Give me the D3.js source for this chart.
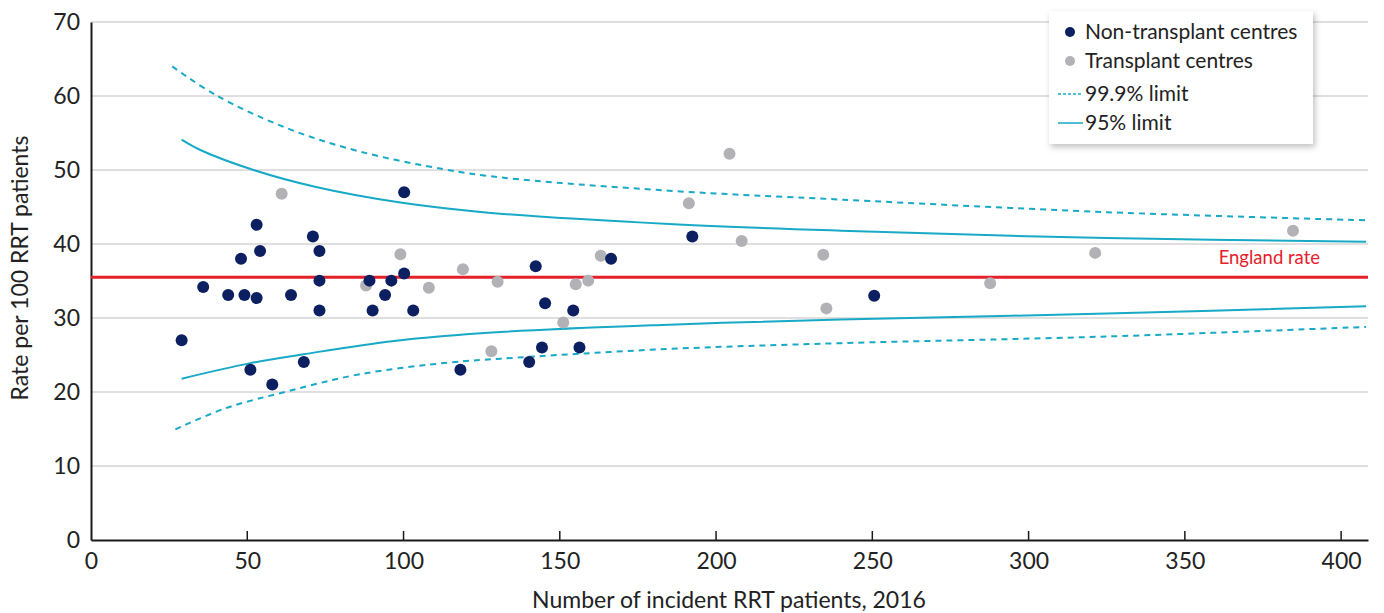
<!DOCTYPE html>
<html>
<head>
<meta charset="utf-8">
<script src="https://cdn.jsdelivr.net/npm/d3@7"></script>
<style>
  html, body { margin: 0; padding: 0; background: #fff; }
  svg { display: block; font-family: Lato, "Open Sans", sans-serif; }
</style>
</head>
<body>
<svg id="chart" width="1384" height="613"></svg>
<script>
// ---- data ----
const nonTxSize = [29.0, 35.9, 43.9, 49.1, 53.0, 48.0, 53.0, 54.1, 64.0, 51.0, 58.0, 68.1, 71.0, 73.1, 73.1, 73.1, 89.1, 90.1, 94.1, 96.1, 100.2, 100.2, 103.1, 118.2, 142.3, 145.3, 140.2, 144.3, 154.3, 156.3, 166.4, 192.4, 250.6];
const nonTxRate = [27.0, 34.2, 33.1, 33.1, 32.7, 38.0, 42.6, 39.05, 33.1, 23.0, 21.0, 24.05, 41.0, 39.05, 35.05, 31.0, 35.05, 31.0, 33.1, 35.05, 47.0, 36.0, 31.0, 23.0, 37.0, 32.0, 24.05, 26.0, 31.0, 26.0, 38.0, 41.0, 33.0];
const txSize = [61.0, 88.0, 99.0, 108.1, 119.0, 130.1, 128.1, 151.1, 155.1, 159.1, 163.1, 204.3, 191.3, 208.2, 234.3, 235.3, 287.7, 321.3, 384.6];
const txRate = [46.8, 34.4, 38.6, 34.1, 36.6, 34.9, 25.5, 29.4, 34.55, 35.05, 38.4, 52.2, 45.5, 40.4, 38.55, 31.3, 34.7, 38.8, 41.8];

const upper999X = [26, 40, 63, 86, 113, 131, 185, 240, 325, 408];
const upper999Y = [64.0, 60.1, 55.6, 52.5, 50.1, 49.0, 47.2, 46.0, 44.3, 43.2];
const upper95X = [29, 35, 52, 72, 99, 128, 185, 240, 325, 408];
const upper95Y = [54.1, 52.7, 50.0, 47.7, 45.6, 44.2, 42.7, 41.8, 40.8, 40.3];
const lower95X = [29, 51, 68, 97, 131, 185, 240, 325, 408];
const lower95Y = [21.8, 23.9, 25.1, 26.9, 28.1, 29.1, 29.8, 30.6, 31.6];
const lower999X = [27, 43, 63, 86, 115, 131, 184, 240, 325, 408];
const lower999Y = [14.95, 17.8, 20.1, 22.4, 24.0, 24.5, 25.8, 26.6, 27.5, 28.8];

const englandRate = 35.5;
const xTicks = [0, 50, 100, 150, 200, 250, 300, 350, 400];
const yTicks = [0, 10, 20, 30, 40, 50, 60, 70];
const xMax = 408.6;
const legendLabels = ["Non-transplant centres", "Transplant centres", "99.9% limit", "95% limit"];

// ---- layout ----
const svg = d3.select("#chart");
const pLeft = 91, pRight = 1368, pTop = 22, pBottom = 540;
const x = d3.scaleLinear().domain([0, xMax]).range([pLeft, pRight]);
const y = d3.scaleLinear().domain([0, 70]).range([pBottom, pTop]);

const cDark = "#0c1f61", cGrey = "#b2b2b6", cCyan = "#17a9c6", cRed = "#e5202a";

// gridlines
svg.append("g").selectAll("line").data(yTicks.filter(d => d > 0)).join("line")
  .attr("x1", pLeft).attr("x2", pRight)
  .attr("y1", d => y(d)).attr("y2", d => y(d))
  .attr("stroke", "#d4d4d4").attr("stroke-width", 1.5);

// y axis
const yAxis = svg.append("g").attr("transform", `translate(${pLeft},0)`)
  .call(d3.axisLeft(y).tickValues(yTicks).tickSize(0).tickPadding(11));
yAxis.select(".domain").attr("stroke", "#1a1a1a").attr("stroke-width", 2);
yAxis.selectAll("text").attr("font-size", 23).attr("fill", "#222").attr("font-family", "Lato");

// x axis
const xAxis = svg.append("g").attr("transform", `translate(0,${pBottom})`)
  .call(d3.axisBottom(x).tickValues(xTicks).tickSize(0).tickPadding(13));
xAxis.select(".domain").attr("stroke", "#1a1a1a").attr("stroke-width", 2);
xAxis.selectAll("text").attr("font-size", 23).attr("fill", "#222").attr("font-family", "Lato");
// inner ticks
svg.append("g").selectAll("line").data(xTicks.filter(d => d > 0)).join("line")
  .attr("x1", d => x(d)).attr("x2", d => x(d))
  .attr("y1", pBottom).attr("y2", pBottom - 9)
  .attr("stroke", "#1a1a1a").attr("stroke-width", 1.5);

// axis titles
svg.append("text").attr("x", 729).attr("y", 608)
  .attr("text-anchor", "middle").attr("font-size", 23).attr("fill", "#222")
  .text("Number of incident RRT patients, 2016");
svg.append("text").attr("transform", `translate(28,${(pTop + pBottom) / 2 - 13}) rotate(-90)`)
  .attr("text-anchor", "middle").attr("font-size", 23).attr("fill", "#222")
  .text("Rate per 100 RRT patients");

// limit lines
const line = d3.line().x(d => x(d[0])).y(d => y(d[1])).curve(d3.curveCatmullRom.alpha(0.5));
function drawLimit(xs, ys, dashed) {
  svg.append("path").datum(xs.map((v, i) => [v, ys[i]]))
    .attr("d", line).attr("fill", "none").attr("stroke", cCyan)
    .attr("stroke-width", 2).attr("stroke-dasharray", dashed ? "6,5" : null);
}
drawLimit(upper999X, upper999Y, true);
drawLimit(lower999X, lower999Y, true);
drawLimit(upper95X, upper95Y, false);
drawLimit(lower95X, lower95Y, false);

// England rate
svg.append("line").attr("x1", pLeft).attr("x2", pRight)
  .attr("y1", y(englandRate)).attr("y2", y(englandRate))
  .attr("stroke", cRed).attr("stroke-width", 3);
svg.append("text").attr("x", 1320).attr("y", y(englandRate) - 13)
  .attr("text-anchor", "end").attr("font-size", 18.5).attr("fill", cRed)
  .text("England rate");

// points
svg.append("g").selectAll("circle").data(txSize.map((v, i) => [v, txRate[i]])).join("circle")
  .attr("cx", d => x(d[0])).attr("cy", d => y(d[1])).attr("r", 6).attr("fill", cGrey);
svg.append("g").selectAll("circle").data(nonTxSize.map((v, i) => [v, nonTxRate[i]])).join("circle")
  .attr("cx", d => x(d[0])).attr("cy", d => y(d[1])).attr("r", 6).attr("fill", cDark);

// legend
const defs = svg.append("defs");
const f = defs.append("filter").attr("id", "shadow").attr("x", "-10%").attr("y", "-10%").attr("width", "130%").attr("height", "140%");
f.append("feDropShadow").attr("dx", 2).attr("dy", 3).attr("stdDeviation", 3).attr("flood-color", "#000").attr("flood-opacity", 0.25);
const lg = svg.append("g");
lg.append("rect").attr("x", 1049).attr("y", 11).attr("width", 264).attr("height", 133)
  .attr("fill", "#fff").attr("filter", "url(#shadow)");
const rowsY = [32, 61, 94, 123];
lg.append("circle").attr("cx", 1070).attr("cy", rowsY[0]).attr("r", 5).attr("fill", cDark);
lg.append("circle").attr("cx", 1070).attr("cy", rowsY[1]).attr("r", 5).attr("fill", cGrey);
lg.append("line").attr("x1", 1058).attr("x2", 1083).attr("y1", rowsY[2]).attr("y2", rowsY[2])
  .attr("stroke", cCyan).attr("stroke-width", 1.5).attr("stroke-dasharray", "3,2");
lg.append("line").attr("x1", 1058).attr("x2", 1083).attr("y1", rowsY[3]).attr("y2", rowsY[3])
  .attr("stroke", cCyan).attr("stroke-width", 1.5);
legendLabels.forEach((t, i) => {
  lg.append("text").attr("x", 1085).attr("y", rowsY[i]).attr("dy", "0.35em")
    .attr("font-size", 21).attr("fill", "#222").text(t);
});
</script>
</body>
</html>
